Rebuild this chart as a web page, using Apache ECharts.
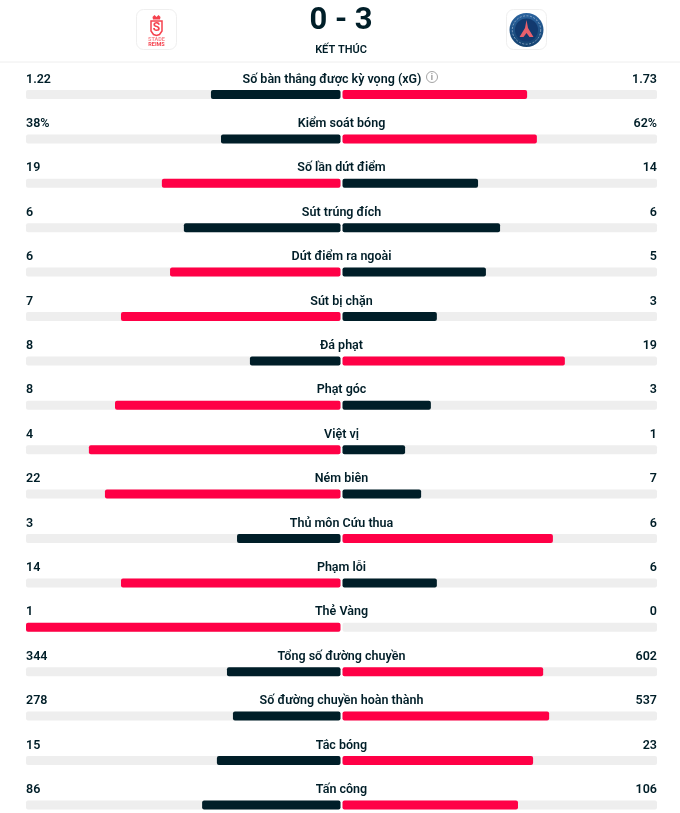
<!DOCTYPE html>
<html><head><meta charset="utf-8">
<style>html,body{margin:0;padding:0;background:#fff}#c{width:680px;height:813px}</style>
<script src="https://cdn.jsdelivr.net/npm/echarts@6/dist/echarts.min.js"></script>
</head><body><div id="c"></div>
<script>
const categories = ["Số bàn thắng được kỳ vọng (xG)","Kiểm soát bóng","Số lần dứt điểm","Sút trúng đích","Dứt điểm ra ngoài","Sút bị chặn","Đá phạt","Phạt góc","Việt vị","Ném biên","Thủ môn Cứu thua","Phạm lỗi","Thẻ Vàng","Tổng số đường chuyền","Số đường chuyền hoàn thành","Tắc bóng","Tấn công"];
const homeValues = [1.22,38,19,6,6,7,8,8,4,22,3,14,1,344,278,15,86];
const awayValues = [1.73,62,14,6,5,3,19,3,1,7,6,6,0,602,537,23,106];
const homeLabels = ["1.22","38%","19","6","6","7","8","8","4","22","3","14","1","344","278","15","86"];
const awayLabels = ["1.73","62%","14","6","5","3","19","3","1","7","6","6","0","602","537","23","106"];
const homeShare = [0.412,0.380,0.568,0.498,0.542,0.698,0.288,0.717,0.800,0.749,0.329,0.698,1,0.361,0.342,0.393,0.440];
const awayShare = [0.587,0.618,0.431,0.501,0.456,0.300,0.707,0.281,0.199,0.250,0.669,0.300,0,0.638,0.657,0.606,0.558];
const RED = "#ff0046", DARK = "#001e28", TRACK = "#eeeeee", FONT = "Roboto, sans-serif";

const colorFor = (mine,other)=> mine>other ? RED : DARK;

const yBase = {type:"category",data:categories,inverse:true,axisLine:{show:false},axisTick:{show:false},axisLabel:{show:false},splitLine:{show:false}};
const xBase = {type:"value",min:0,max:1,axisLine:{show:false},axisTick:{show:false},axisLabel:{show:false},splitLine:{show:false}};
const TOP=72.3, H=754.8;

function bars(idx,share,mine,other){
  return [{type:"bar",xAxisIndex:idx,yAxisIndex:idx,data:categories.map(()=>1),barWidth:9,barGap:"-100%",silent:true,
      itemStyle:{color:TRACK,borderRadius:2},z:1},
    {type:"bar",xAxisIndex:idx,yAxisIndex:idx,barWidth:9,barGap:"-100%",silent:true,z:2,
      data:share.map((s,i)=>({value:s,itemStyle:{color:colorFor(mine[i],other[i]),borderRadius:2}}))}];
}

const chart = echarts.init(document.getElementById("c"),null,{renderer:"canvas"});

function logoReims(cx,cy){
  const c="#f5424e";
  return [
   {type:"polygon",shape:{points:[[cx-5.5,cy-9],[cx+5.5,cy-9],[cx+5.5,cy+1],[cx+3,cy+4.5],[cx,cy+5.5],[cx-3,cy+4.5],[cx-5.5,cy+1]]},style:{fill:"none",stroke:c,lineWidth:1.5}},
   {type:"polygon",shape:{points:[[cx-4,cy-13],[cx-2,cy-15],[cx,cy-13],[cx+2,cy-15],[cx+4,cy-13],[cx+3.5,cy-10.5],[cx-3.5,cy-10.5]]},style:{fill:c}},
   {type:"text",x:cx,y:cy-2,style:{text:"S",fill:c,font:"bold 12px Roboto",align:"center",verticalAlign:"middle"}},
   {type:"text",x:cx,y:cy+10,style:{text:"STADE",fill:"#f98a90",font:"bold 5.5px Roboto",align:"center",verticalAlign:"middle"}},
   {type:"text",x:cx,y:cy+14.5,style:{text:"REIMS",fill:c,font:"bold 5.5px Roboto",align:"center",verticalAlign:"middle"}}
  ];
}
function logoPsg(cx,cy){
  return [
   {type:"circle",shape:{cx,cy,r:17},style:{fill:new echarts.graphic.LinearGradient(0,0,0,1,[{offset:0,color:"#2a639f"},{offset:1,color:"#14426f"}])}},
   {type:"circle",shape:{cx,cy,r:11.5},style:{fill:"#123a6f"}},
   {type:"polygon",shape:{points:[[cx,cy-10],[cx+1.5,cy-2],[cx+7,cy+7],[cx+3,cy+7],[cx,cy+3],[cx-3,cy+7],[cx-7,cy+7],[cx-1.5,cy-2]]},style:{fill:"#e8606c"}},
   {type:"circle",shape:{cx,cy,r:14.2},style:{fill:"none",stroke:"#a9bdd6",lineWidth:1,lineDash:[2,1.5],opacity:.7}}
  ];
}

chart.setOption({
  animation:false,
  backgroundColor:"#fff",
  grid:[
    {left:26,width:314.5,top:TOP,height:H,outerBoundsMode:"none"},
    {left:342.5,width:314.5,top:TOP,height:H,outerBoundsMode:"none"},
    {left:26,width:631,top:TOP,height:H,outerBoundsMode:"none"}
  ],
  xAxis:[{...xBase,gridIndex:0,inverse:true},{...xBase,gridIndex:1},{...xBase,gridIndex:2}],
  yAxis:[{...yBase,gridIndex:0},{...yBase,gridIndex:1},{...yBase,gridIndex:2}],
  series:[
    ...bars(0,homeShare,homeValues,awayValues),
    ...bars(1,awayShare,awayValues,homeValues),
    {type:"custom",xAxisIndex:2,yAxisIndex:2,silent:true,z:3,clip:false,
     data:categories.map((c,i)=>[i]),
     encode:{y:0},
     renderItem(params,api){
       const i=api.value(0);
       const l=api.coord([0,i]), m=api.coord([0.5,i]), r=api.coord([1,i]);
       const y=l[1]-15;
       const t=(x,text,align)=>({type:"text",x,y,style:{text,fill:DARK,font:"600 12.5px "+FONT,align,verticalAlign:"middle"}});
       return {type:"group",children:[t(l[0],homeLabels[i],"left"),t(m[0]-(i===0?9.5:0),categories[i],"center"),t(r[0],awayLabels[i],"right")]};
     }}
  ],
  graphic:[
    {type:"line",shape:{x1:0,y1:62,x2:680,y2:62},style:{stroke:"#eeeeee",lineWidth:1}},
    {type:"text",x:341,y:21.5,style:{text:"0 - 3",fill:DARK,font:"bold 31px Roboto",align:"center",verticalAlign:"middle"}},
    {type:"text",x:341,y:50,style:{text:"KẾT THÚC",fill:DARK,font:"600 11px Roboto",align:"center",verticalAlign:"middle"}},
    {type:"rect",shape:{x:136.5,y:9.5,width:40,height:40,r:7},style:{fill:"#fff",stroke:"#efefef",lineWidth:1}},
    {type:"rect",shape:{x:506.5,y:9.5,width:40,height:40,r:7},style:{fill:"#fff",stroke:"#efefef",lineWidth:1}},
    ...logoReims(156.5,30),
    ...logoPsg(526.5,30),
    {type:"circle",shape:{cx:432,cy:77,r:5.5},style:{fill:"#fff",stroke:"#a5a5a5",lineWidth:1}},
    {type:"text",x:432,y:77.5,style:{text:"i",fill:"#888",font:"500 9px Roboto",align:"center",verticalAlign:"middle"}}
  ]
});
</script></body></html>
